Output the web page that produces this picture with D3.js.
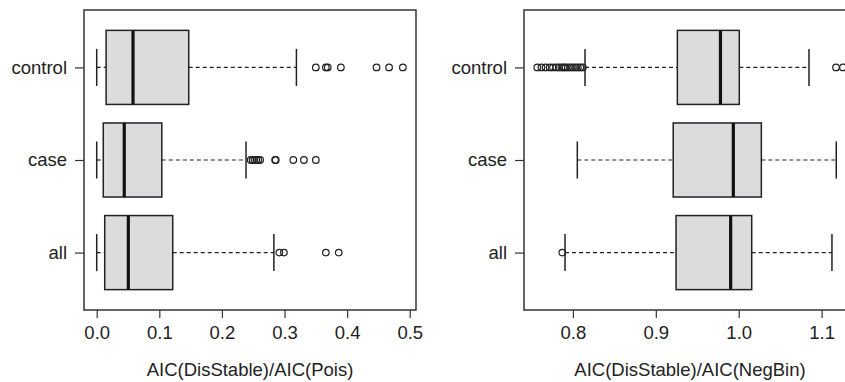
<!DOCTYPE html>
<html>
<head>
<meta charset="utf-8">
<script src="https://cdn.jsdelivr.net/npm/d3@7/dist/d3.min.js"></script>
<style>
 body { margin:0; background:#fff; overflow:hidden; }
 svg { display:block; font-family:"Liberation Sans", Arial, sans-serif; }
</style>
</head>
<body>
<div id="chart"></div>
<script>
// groups from top to bottom
const groups = ['control','case','all'];

// [whisker low, Q1, median, Q3, whisker high] per group
const poisStats = [
 [0.000, 0.015, 0.058, 0.147, 0.319],
 [0.000, 0.0105, 0.044, 0.104, 0.2385],
 [0.000, 0.0128, 0.0505, 0.1214, 0.283]
];
const poisOutliers = [
 [0.350, 0.366, 0.369, 0.390, 0.447, 0.467, 0.489],
 [0.246, 0.249, 0.252, 0.255, 0.258, 0.261, 0.285, 0.286, 0.314, 0.331, 0.350],
 [0.2917, 0.299, 0.366, 0.3866]
];
const poisTicks = [0.0, 0.1, 0.2, 0.3, 0.4, 0.5];

const negBinStats = [
 [0.8146, 0.926, 0.978, 1.0007, 1.0848],
 [0.8053, 0.921, 0.9935, 1.0273, 1.1177],
 [0.7905, 0.9244, 0.9903, 1.0157, 1.1125]
];
const negBinOutliers = [
 [0.757, 0.762, 0.767, 0.772, 0.776, 0.780, 0.783, 0.786, 0.789, 0.791, 0.794, 0.797, 0.800, 0.803, 0.806, 0.809, 0.812, 1.1174, 1.1258],
 [],
 [0.7872]
];
const negBinTicks = [0.8, 0.9, 1.0, 1.1];

const width = 845, height = 382;
const frameColor = '#333333';
const inkColor = '#222222';
const boxFill = '#dcdcdf';

const svg = d3.select('#chart').append('svg')
    .attr('width', width)
    .attr('height', height);

// draw one boxplot panel
function boxPanel(left, right, domain, stats, outliers, ticks, label){
 const top = 10, bottom = 310;

 const xScale = d3.scaleLinear().domain(domain).range([left, right]);
 const yScale = d3.scalePoint().domain(groups).range([top, bottom]).padding(0.62);
 const boxH = yScale.step() * 0.8;

 const g = svg.append('g');

 // frame
 g.append('rect')
     .attr('x', left).attr('y', top)
     .attr('width', right - left).attr('height', bottom - top)
     .attr('fill', 'none')
     .attr('stroke', frameColor)
     .attr('stroke-width', 1.5);

 // x axis
 const xAxis = d3.axisBottom(xScale)
     .tickValues(ticks)
     .tickSize(8)
     .tickPadding(8)
     .tickFormat(d3.format('.1f'));

 const xg = g.append('g')
     .attr('transform', `translate(0,${bottom})`)
     .call(xAxis);
 xg.select('.domain').remove();
 xg.selectAll('line').attr('stroke', frameColor).attr('stroke-width', 1.2);
 xg.selectAll('text')
     .attr('fill', inkColor)
     .style('font-size', '18.5px')
     .style('font-family', '"Liberation Sans", Arial, sans-serif');

 // y axis
 const yAxis = d3.axisLeft(yScale)
     .tickSize(9)
     .tickPadding(8);
 const yg = g.append('g')
     .attr('transform', `translate(${left},0)`)
     .call(yAxis);
 yg.select('.domain').remove();
 yg.selectAll('line').attr('stroke', frameColor).attr('stroke-width', 1.2);
 yg.selectAll('text')
     .attr('fill', inkColor)
     .style('font-size', '18.5px')
     .style('font-family', '"Liberation Sans", Arial, sans-serif');

 // axis title
 g.append('text')
     .attr('x', (left + right) / 2)
     .attr('y', 376)
     .attr('text-anchor', 'middle')
     .attr('fill', inkColor)
     .style('font-size', '18.5px')
     .text(label);

 const boxes = g.selectAll('.box')
     .data(groups.map((grp, i) => ({grp, s: stats[i], out: outliers[i]})))
     .join('g')
     .attr('class', 'box')
     .attr('transform', d => `translate(0,${yScale(d.grp)})`);

 // whiskers
 boxes.append('line')
     .attr('x1', d => xScale(d.s[0])).attr('x2', d => xScale(d.s[1]))
     .attr('stroke', inkColor).attr('stroke-width', 1.2)
     .style('stroke-dasharray', '4,3');
 boxes.append('line')
     .attr('x1', d => xScale(d.s[3])).attr('x2', d => xScale(d.s[4]))
     .attr('stroke', inkColor).attr('stroke-width', 1.2)
     .style('stroke-dasharray', '4,3');

 // staples
 [0, 4].forEach(k => {
  boxes.append('line')
      .attr('x1', d => xScale(d.s[k])).attr('x2', d => xScale(d.s[k]))
      .attr('y1', -boxH / 4).attr('y2', boxH / 4)
      .attr('stroke', inkColor).attr('stroke-width', 1.5);
 });

 // box
 boxes.append('rect')
     .attr('x', d => xScale(d.s[1]))
     .attr('y', -boxH / 2)
     .attr('width', d => xScale(d.s[3]) - xScale(d.s[1]))
     .attr('height', boxH)
     .attr('fill', boxFill)
     .attr('stroke', inkColor)
     .attr('stroke-width', 1.5);

 // median
 boxes.append('line')
     .attr('x1', d => xScale(d.s[2])).attr('x2', d => xScale(d.s[2]))
     .attr('y1', -boxH / 2).attr('y2', boxH / 2)
     .attr('stroke', '#111').attr('stroke-width', 3.2);

 // outliers
 boxes.selectAll('circle')
     .data(d => d.out)
     .join('circle')
     .attr('cx', d => xScale(d))
     .attr('cy', 0)
     .attr('r', 3.3)
     .attr('fill', 'none')
     .attr('stroke', inkColor)
     .attr('stroke-width', 1.2);
}

boxPanel(84, 416, [-0.0203, 0.510], poisStats, poisOutliers, poisTicks, 'AIC(DisStable)/AIC(Pois)');
boxPanel(524, 856, [0.741, 1.1415], negBinStats, negBinOutliers, negBinTicks, 'AIC(DisStable)/AIC(NegBin)');
</script>
</body>
</html>
